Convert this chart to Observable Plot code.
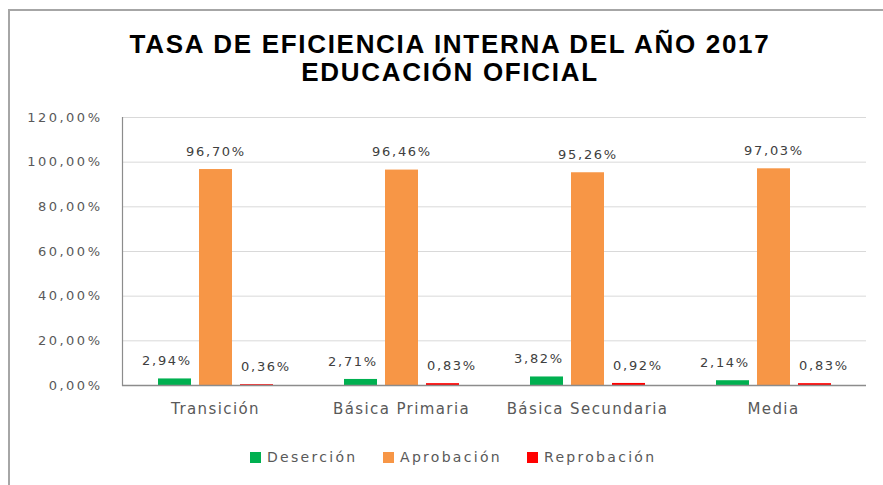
<!DOCTYPE html>
<html>
<head>
<meta charset="utf-8">
<script src="https://cdn.jsdelivr.net/npm/d3@7"></script>
<script src="https://cdn.jsdelivr.net/npm/@observablehq/plot@0.6"></script>
<style>
  html, body { margin: 0; padding: 0; background: #fff; }
  #wrap { position: relative; width: 883px; height: 485px; overflow: hidden; background: #fff; }
  #border { position: absolute; left: 8px; top: 9px; width: 900px; height: 500px;
            border-left: 2px solid #a6a6a6; border-top: 2px solid #a6a6a6; }
  #title { position: absolute; left: 0; top: 30px; width: 900px; text-align: center;
           font-family: "Liberation Sans", Arial, sans-serif; font-weight: bold;
           font-size: 26px; line-height: 28px; color: #000; letter-spacing: 1.7px; }
  #chart { position: absolute; left: 0; top: 100px; }
  #legend { position: absolute; left: 0; top: 447px; width: 883px; height: 20px;
            font-family: "DejaVu Sans", sans-serif; font-size: 14px; color: #595959;
            letter-spacing: 2.3px; }
  .item { position: absolute; top: 0; display: flex; align-items: center; height: 20px; }
  .sw { width: 11px; height: 11px; margin-right: 6px; }
  #chart g[aria-label="y-axis tick label"] text { letter-spacing: 2.5px; }
  #chart g[aria-label="fx-axis tick label"] text { letter-spacing: 1.4px; }
  #chart g[aria-label="text"] text { letter-spacing: 1.7px; }
</style>
</head>
<body>
<div id="wrap">
  <div id="border"></div>
  <div id="title">TASA DE EFICIENCIA INTERNA DEL AÑO 2017<br>EDUCACIÓN OFICIAL</div>
  <div id="chart"></div>
  <div id="legend"></div>
</div>
<script>
const categories = ["Transición", "Básica Primaria", "Básica Secundaria", "Media"];
const series = ["Deserción", "Aprobación", "Reprobación"];
const colors = ["#00B050", "#F79646", "#FF0000"];
const desercion = [2.94, 2.71, 3.82, 2.14];
const aprobacion = [96.70, 96.46, 95.26, 97.03];
const reprobacion = [0.36, 0.83, 0.92, 0.83];
const yTicks = [0, 20, 40, 60, 80, 100, 120];

const seriesValues = [desercion, aprobacion, reprobacion];
const data = [];
categories.forEach((c, i) => {
  series.forEach((s, j) => data.push({cat: c, series: s, value: seriesValues[j][i]}));
});
const fmt = v => v.toFixed(2).replace(".", ",") + "%";
const labelFont = {fontFamily: "DejaVu Sans, sans-serif", fontSize: 13, fill: "#404040"};

const labelMark = (s, dx) => Plot.text(data.filter(d => d.series === s), {
  fx: "cat", x: "series", y: "value", text: d => fmt(d.value),
  dy: -18, dx, ...labelFont
});

const chart = Plot.plot({
  width: 883,
  height: 335,
  marginLeft: 121,
  marginRight: 17,
  marginTop: 17,
  marginBottom: 50,
  style: {background: "transparent", overflow: "visible"},
  fx: {domain: categories, padding: 0, label: null, axis: null},
  x: {domain: series, paddingInner: 0.2, paddingOuter: 0.868, axis: null},
  y: {domain: [0, 120], ticks: yTicks, label: null},
  color: {domain: series, range: colors},
  marks: [
    Plot.gridY(yTicks, {stroke: "#d9d9d9", strokeOpacity: 1}),
    Plot.barY(data, {fx: "cat", x: "series", y: "value", fill: "series"}),
    Plot.ruleY([0], {stroke: "#8c8c8c", strokeWidth: 1.5}),
    Plot.frame({anchor: "left", facetAnchor: "left", stroke: "#8c8c8c", strokeWidth: 1.2}),
    Plot.axisY(yTicks, {tickSize: 0, tickPadding: 20, tickFormat: fmt, label: null,
      fontFamily: "DejaVu Sans, sans-serif", fontSize: 13, fill: "#595959"}),
    Plot.axisFx({anchor: "bottom", tickSize: 0, tickPadding: 18, label: null,
      fontFamily: "DejaVu Sans, sans-serif", fontSize: 15, fill: "#595959"}),
    labelMark("Deserción", -8),
    labelMark("Aprobación", 0),
    labelMark("Reprobación", 9)
  ]
});
document.getElementById("chart").appendChild(chart);

const legend = document.getElementById("legend");
const lefts = [250, 383, 527];
series.forEach((s, i) => {
  const it = document.createElement("div");
  it.className = "item";
  it.style.left = lefts[i] + "px";
  const sw = document.createElement("span");
  sw.className = "sw";
  sw.style.background = colors[i];
  it.appendChild(sw);
  it.appendChild(document.createTextNode(s));
  legend.appendChild(it);
});
</script>
</body>
</html>
